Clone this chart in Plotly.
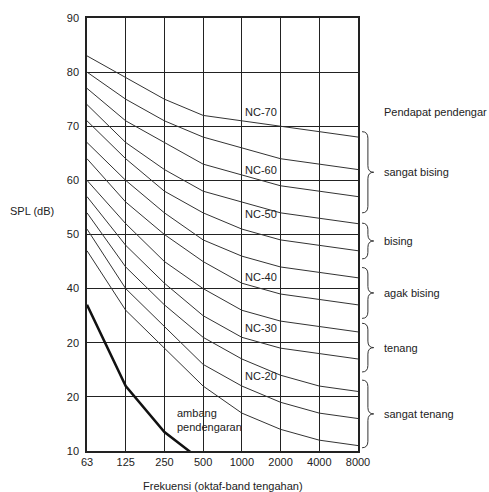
import plotly.graph_objects as go

freqs = ["63", "125", "250", "500", "1000", "2000", "4000", "8000"]
nc_levels = [15, 20, 25, 30, 35, 40, 45, 50, 55, 60, 65, 70]
nc_values = {
    15: [47, 36, 29, 22, 17, 14, 12, 11],
    20: [51, 40, 33, 26, 22, 19, 17, 16],
    25: [54, 44, 37, 31, 27, 24, 22, 21],
    30: [57, 48, 41, 35, 31, 29, 28, 27],
    35: [60, 52, 45, 40, 36, 34, 33, 32],
    40: [64, 56, 50, 45, 41, 39, 38, 37],
    45: [67, 60, 54, 49, 46, 44, 43, 42],
    50: [71, 64, 58, 54, 51, 49, 48, 47],
    55: [74, 67, 62, 58, 56, 54, 53, 52],
    60: [77, 71, 67, 63, 61, 59, 58, 57],
    65: [80, 75, 71, 68, 66, 64, 63, 62],
    70: [83, 79, 75, 72, 71, 70, 69, 68],
}
threshold_freqs = ["63", "125", "250", "500"]
threshold_values = [37, 22, 13.5, 8]

nc_label_texts = ["NC-70", "NC-60", "NC-50", "NC-40", "NC-30", "NC-20"]
nc_label_y = [72.7, 62.0, 53.8, 42.2, 32.8, 23.8]

y_tickvals = [10, 20, 30, 40, 50, 60, 70, 80, 90]
y_ticktext = ["10", "20", "20", "40", "50", "60", "70", "80", "90"]

opinion_labels = ["sangat bising", "bising", "agak bising", "tenang", "sangat tenang"]
opinion_top = [69.0, 52.1, 43.9, 33.6, 23.1]
opinion_bottom = [54.0, 45.5, 34.5, 24.6, 10.6]

FONT = "Liberation Sans, Arial, sans-serif"
TXT = "#222222"

fig = go.Figure()
for lvl in nc_levels:
    fig.add_trace(go.Scatter(
        x=freqs, y=nc_values[lvl], mode="lines",
        line=dict(color="#333333", width=1), hoverinfo="skip", showlegend=False))

fig.add_trace(go.Scatter(
    x=threshold_freqs, y=threshold_values, mode="lines",
    line=dict(color="#111111", width=2.5), hoverinfo="skip", showlegend=False))

annotations = []
x_1000 = freqs.index("1000")
x_250 = freqs.index("250")
for t, yv in zip(nc_label_texts, nc_label_y):
    annotations.append(dict(x=x_1000, y=yv, xref="x", yref="y", text=t,
                            showarrow=False, xanchor="left", yanchor="middle",
                            xshift=1, font=dict(size=11, color=TXT, family=FONT)))

annotations.append(dict(x=x_250, y=15.8, xref="x", yref="y",
                        text="ambang<br>pendengaran", showarrow=False,
                        xanchor="left", yanchor="middle", align="left", xshift=11,
                        font=dict(size=11, color=TXT, family=FONT)))

annotations.append(dict(x=1.09, y=72.7, xref="paper", yref="y",
                        text="Pendapat pendengar", showarrow=False,
                        xanchor="left", yanchor="middle",
                        font=dict(size=11, color=TXT, family=FONT)))

shapes = []
x0, xt = 1.015, 1.058
xm = (x0 + xt) / 2
for lab, top, bot in zip(opinion_labels, opinion_top, opinion_bottom):
    mid = (top + bot) / 2
    d = 1.2
    path = (f"M {x0},{top} Q {xm},{top} {xm},{top - d} "
            f"L {xm},{mid + d} Q {xm},{mid} {xt},{mid} "
            f"Q {xm},{mid} {xm},{mid - d} "
            f"L {xm},{bot + d} Q {xm},{bot} {x0},{bot}")
    shapes.append(dict(type="path", path=path, xref="paper", yref="y",
                       line=dict(color="#333333", width=1)))
    annotations.append(dict(x=1.09, y=mid, xref="paper", yref="y", text=lab,
                            showarrow=False, xanchor="left", yanchor="middle",
                            font=dict(size=11, color=TXT, family=FONT)))

annotations.append(dict(x=-0.29, y=0.555, xref="paper", yref="paper",
                        text="SPL (dB)", showarrow=False, xanchor="left",
                        yanchor="middle", font=dict(size=11, color=TXT, family=FONT)))
annotations.append(dict(x=0.5, y=-0.08, xref="paper", yref="paper",
                        text="Frekuensi (oktaf-band tengahan)", showarrow=False,
                        xanchor="center", yanchor="middle",
                        font=dict(size=11, color=TXT, family=FONT)))

fig.update_layout(
    width=489, height=492,
    margin=dict(l=87, r=131, t=16, b=41),
    paper_bgcolor="white", plot_bgcolor="white",
    font=dict(family=FONT, size=11, color=TXT),
    xaxis=dict(type="category", range=[0, 7], showgrid=True,
               gridcolor="#222222", gridwidth=1, showline=True,
               linecolor="#222222", linewidth=1.5, mirror=True,
               ticks="", tickfont=dict(size=11, color=TXT), zeroline=False),
    yaxis=dict(range=[10, 90], tickvals=y_tickvals, ticktext=y_ticktext,
               showgrid=True, gridcolor="#222222", gridwidth=1,
               showline=True, linecolor="#222222", linewidth=1.5, mirror=True,
               ticks="", tickfont=dict(size=11, color=TXT), zeroline=False,
               ticklabelstandoff=4),
    shapes=shapes, annotations=annotations,
)

fig.write_html("out.html", config={"displayModeBar": False},
               post_script="document.body.style.margin='0';document.body.style.overflow='hidden';")
